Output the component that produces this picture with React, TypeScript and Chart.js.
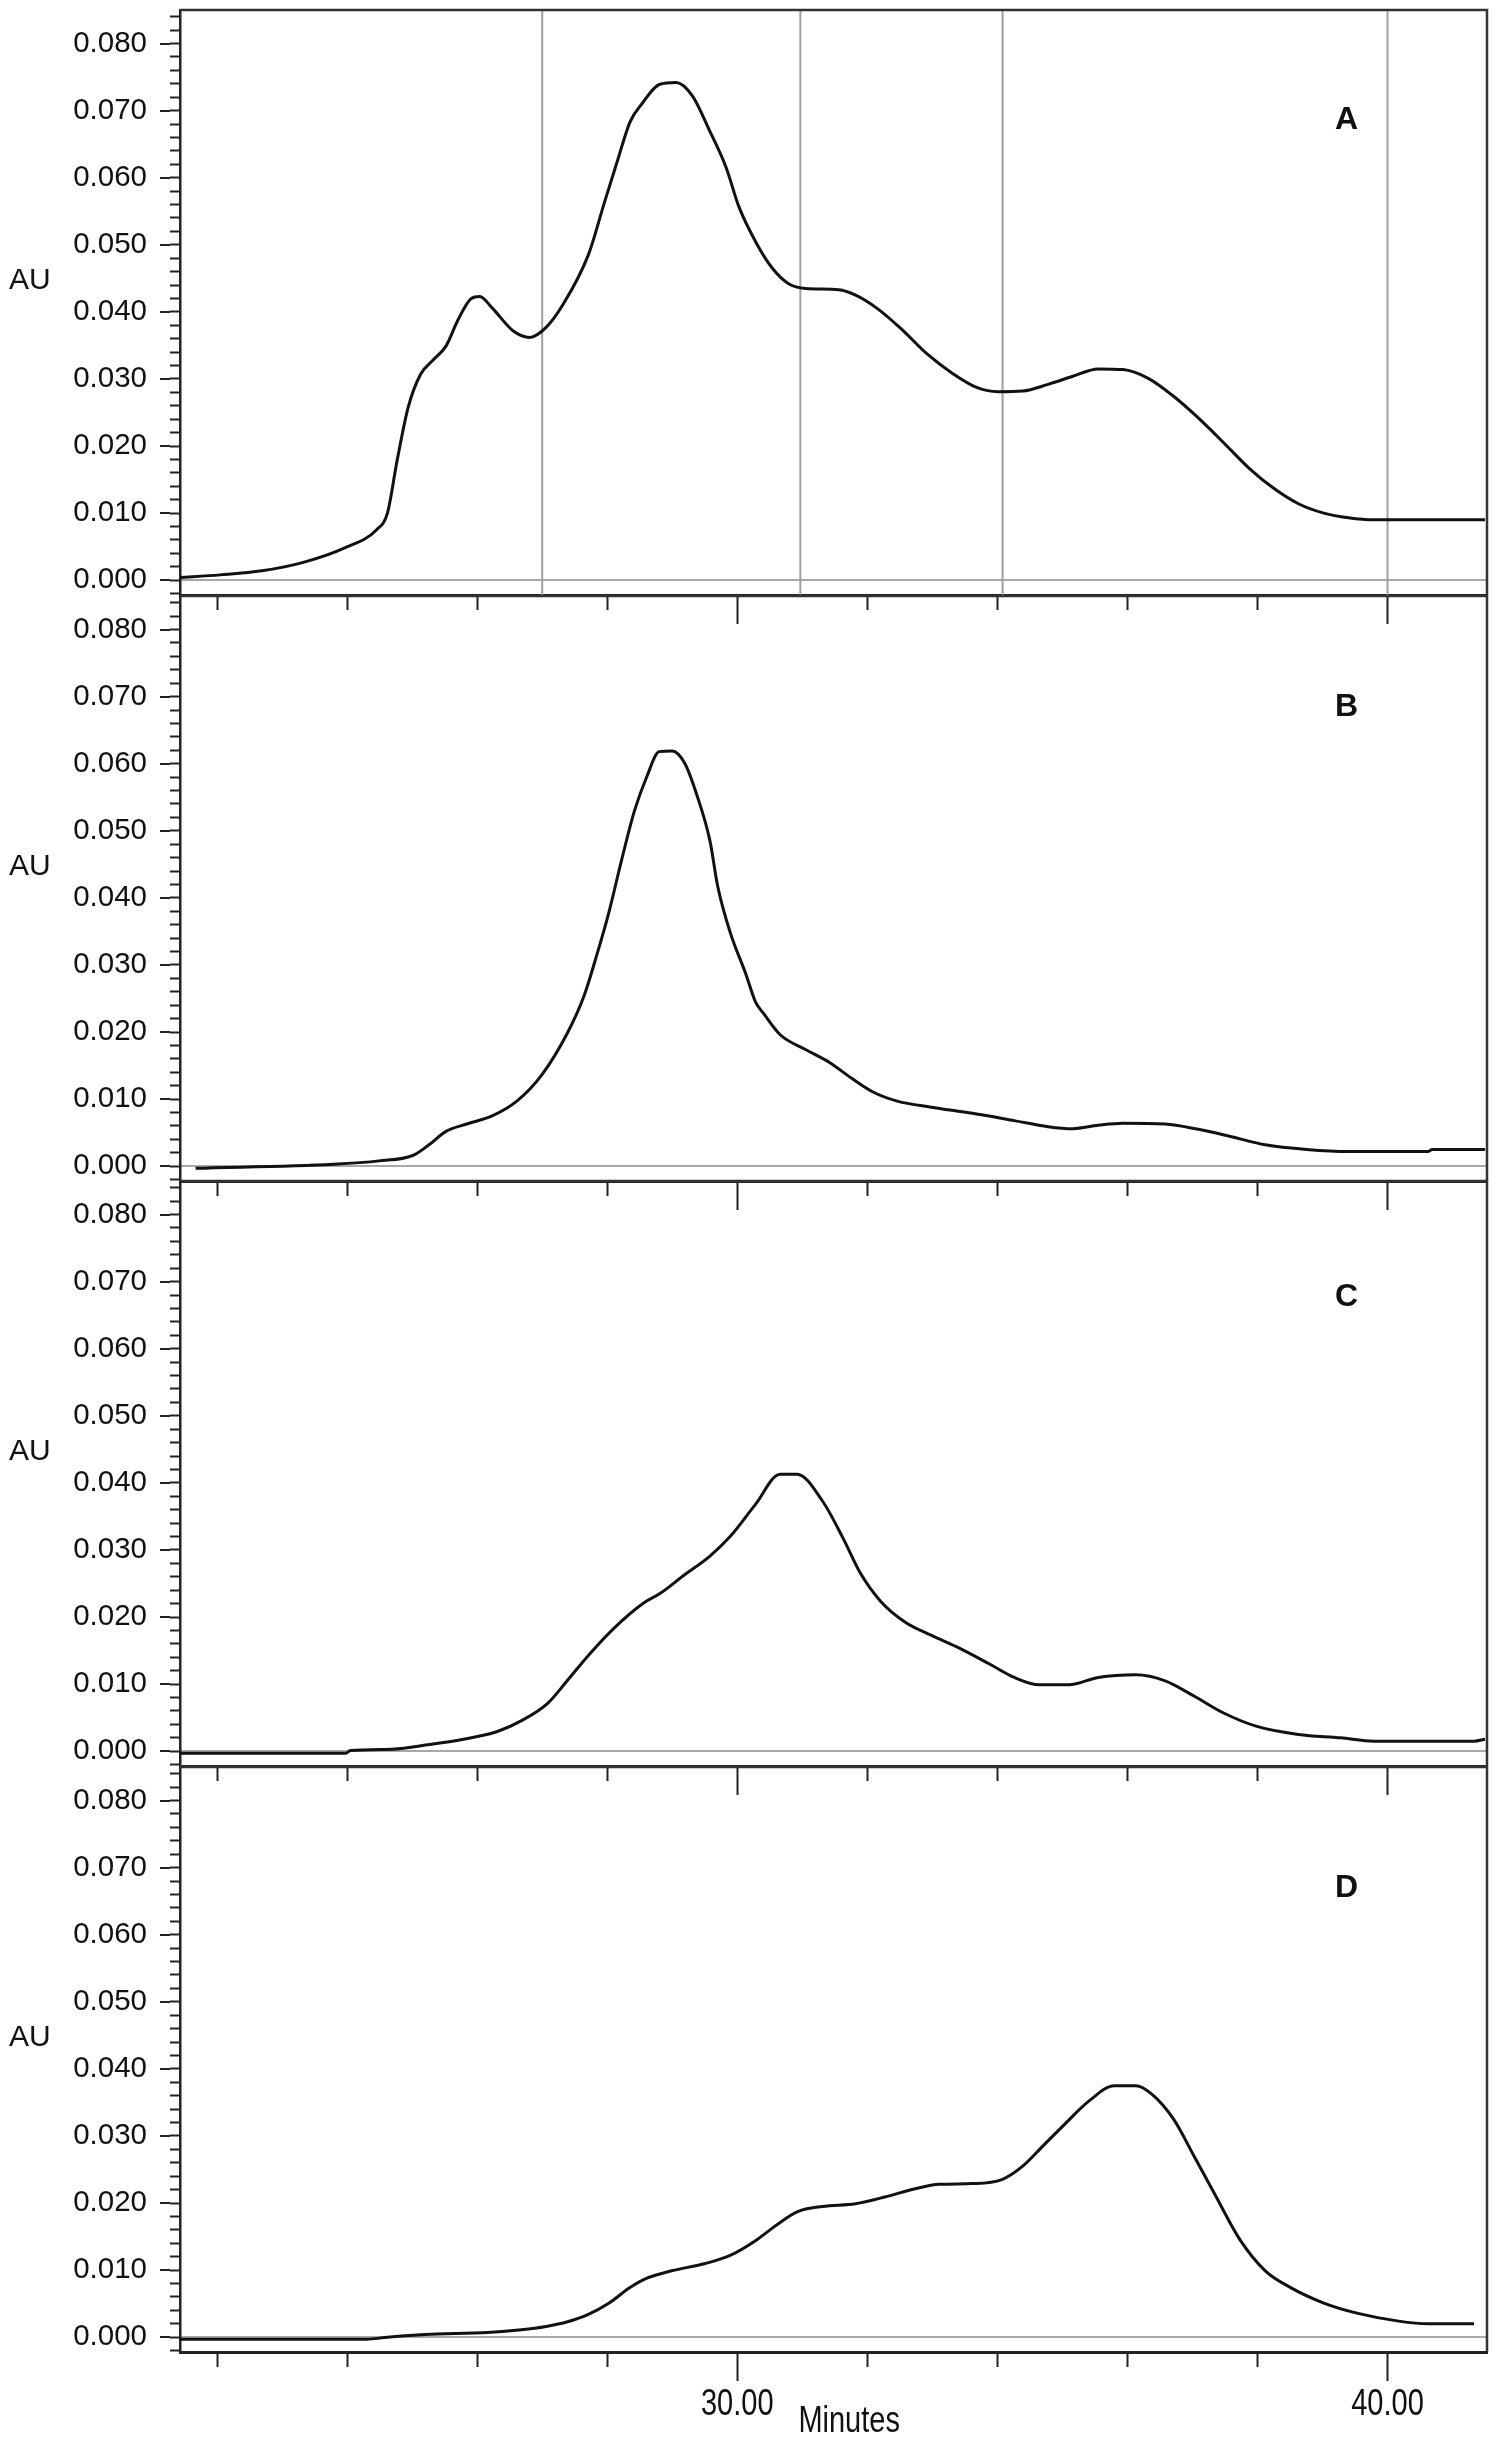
import React, { useEffect, useRef } from 'react';
import { Chart, registerables } from 'chart.js';

Chart.register(...registerables);

// ---------- axis ranges & ticks ----------
const X_MIN = 21.43;
const X_MAX = 41.53;
const Y_MIN = -0.0022;
const Y_MAX = 0.085;

const yMajorTicks = [0, 0.01, 0.02, 0.03, 0.04, 0.05, 0.06, 0.07, 0.08];
const yMinorTicks = [
  -0.002, 0, 0.002, 0.004, 0.006, 0.008, 0.01, 0.012, 0.014, 0.016, 0.018, 0.02,
  0.022, 0.024, 0.026, 0.028, 0.03, 0.032, 0.034, 0.036, 0.038, 0.04, 0.042, 0.044,
  0.046, 0.048, 0.05, 0.052, 0.054, 0.056, 0.058, 0.06, 0.062, 0.064, 0.066, 0.068,
  0.07, 0.072, 0.074, 0.076, 0.078, 0.08, 0.082, 0.084,
];
const xMinorTicks = [22, 24, 26, 28, 30, 32, 34, 36, 38, 40];
const xMajorTicks = [30, 40];

// fraction cut lines in panel A (minutes)
const fractionCuts = [27.0, 30.97, 34.08, 40.0];

// ---------- data (minutes, AU) ----------
const aTime = [21.41, 22.05, 22.69, 23.34, 23.98, 24.45, 24.62, 24.77, 24.94, 25.13, 25.33, 25.52, 25.71, 25.91, 26.04, 26.23, 26.55, 26.81, 27.06, 27.32, 27.71, 27.96, 28.16, 28.35, 28.54, 28.80, 29.06, 29.31, 29.57, 29.83, 30.02, 30.28, 30.54, 30.79, 31.05, 31.56, 31.82, 32.14, 32.53, 32.91, 33.30, 33.69, 34.01, 34.39, 34.78, 35.16, 35.55, 35.93, 36.32, 36.70, 37.09, 37.48, 37.86, 38.25, 38.63, 39.02, 39.40, 39.79, 41.50];
const aAU = [0.0004, 0.0008, 0.0014, 0.0027, 0.0049, 0.0075, 0.0100, 0.0179, 0.0258, 0.0307, 0.0329, 0.0349, 0.0389, 0.0420, 0.0423, 0.0406, 0.0372, 0.0362, 0.0377, 0.0411, 0.0485, 0.0564, 0.0626, 0.0683, 0.0711, 0.0739, 0.0742, 0.0722, 0.0671, 0.0615, 0.0558, 0.0505, 0.0465, 0.0442, 0.0435, 0.0433, 0.0425, 0.0406, 0.0374, 0.0338, 0.0309, 0.0287, 0.0281, 0.0282, 0.0292, 0.0304, 0.0315, 0.0314, 0.0301, 0.0275, 0.0242, 0.0205, 0.0168, 0.0137, 0.0114, 0.0100, 0.0093, 0.0090, 0.0090];

const bTime = [21.67, 23.79, 24.49, 25.01, 25.26, 25.52, 25.84, 26.23, 26.61, 27.00, 27.39, 27.64, 27.84, 28.03, 28.22, 28.42, 28.61, 28.80, 29.00, 29.19, 29.38, 29.58, 29.70, 29.89, 30.13, 30.28, 30.41, 30.66, 31.05, 31.43, 31.76, 32.08, 32.46, 32.98, 33.62, 34.26, 34.78, 35.16, 35.55, 35.93, 36.58, 37.09, 37.60, 38.12, 38.76, 39.40, 40.62, 40.69, 41.50];
const bAU = [-0.0003, 0.0003, 0.0008, 0.0016, 0.0032, 0.0052, 0.0063, 0.0075, 0.0097, 0.0137, 0.0199, 0.0253, 0.0315, 0.0380, 0.0456, 0.0530, 0.0581, 0.0618, 0.0619, 0.0601, 0.0553, 0.0485, 0.0417, 0.0349, 0.0287, 0.0245, 0.0227, 0.0196, 0.0174, 0.0154, 0.0131, 0.0111, 0.0097, 0.0088, 0.0079, 0.0068, 0.0059, 0.0056, 0.0061, 0.0064, 0.0063, 0.0055, 0.0044, 0.0032, 0.0025, 0.0022, 0.0022, 0.0025, 0.0025];

const cTime = [21.41, 23.98, 24.05, 24.69, 25.27, 25.79, 26.30, 26.69, 27.08, 27.40, 27.72, 28.11, 28.56, 28.81, 29.19, 29.58, 29.89, 30.28, 30.66, 30.92, 31.31, 31.63, 31.89, 32.21, 32.59, 32.98, 33.43, 33.88, 34.26, 34.65, 35.10, 35.55, 36.13, 36.58, 37.03, 37.48, 37.99, 38.63, 39.28, 39.79, 41.33, 41.50];
const cAU = [-0.0003, -0.0003, 0.0001, 0.0003, 0.0010, 0.0018, 0.0029, 0.0046, 0.0071, 0.0107, 0.0144, 0.0184, 0.0221, 0.0235, 0.0263, 0.0291, 0.0320, 0.0368, 0.0413, 0.0413, 0.0373, 0.0317, 0.0266, 0.0223, 0.0192, 0.0173, 0.0153, 0.0130, 0.0110, 0.0099, 0.0099, 0.0110, 0.0114, 0.0105, 0.0082, 0.0057, 0.0037, 0.0025, 0.0020, 0.0015, 0.0015, 0.0018];

const dTime = [21.41, 24.30, 24.62, 25.20, 26.16, 26.68, 27.06, 27.39, 27.71, 28.03, 28.35, 28.61, 28.99, 29.51, 29.89, 30.28, 30.60, 30.92, 31.31, 31.82, 32.27, 32.72, 33.11, 33.62, 34.07, 34.39, 34.71, 35.03, 35.42, 35.80, 36.13, 36.38, 36.71, 37.03, 37.35, 37.74, 38.12, 38.51, 39.02, 39.53, 40.17, 40.62, 41.33];
const dAU = [-0.0003, -0.0003, 0.0000, 0.0004, 0.0007, 0.0011, 0.0016, 0.0023, 0.0034, 0.0051, 0.0074, 0.0088, 0.0099, 0.0110, 0.0122, 0.0144, 0.0167, 0.0187, 0.0195, 0.0199, 0.0209, 0.0221, 0.0228, 0.0229, 0.0235, 0.0255, 0.0286, 0.0317, 0.0353, 0.0375, 0.0375, 0.0362, 0.0325, 0.0269, 0.0212, 0.0144, 0.0099, 0.0074, 0.0051, 0.0036, 0.0024, 0.0020, 0.0020];

// ---------- labels ----------
const panelNames = ['A', 'B', 'C', 'D'];
const panelLabelX = 39.37;
const panelLabelY = [0.0686, 0.0684, 0.0677, 0.0669];
const auLabelY = 0.0446;
const yAxisTitle = 'AU';
const xAxisTitle = 'Minutes';
const xAxisTitleX = 30.94;

const seriesTimes = [aTime, bTime, cTime, dTime];
const seriesValues = [aAU, bAU, cAU, dAU];

// ---------- layout ----------
const FONT = '"Liberation Sans", Arial, sans-serif';
const canvasTops = [0, 586, 1171, 1757];
const canvasHeights = [624, 624, 624, 689];
const X_LABEL_STRETCH = 1.3;

Chart.defaults.font.family = FONT;

function overlayPlugin(i: number, isLast: boolean) {
  return {
    id: 'overlay' + i,
    afterDraw(chart: any) {
      const { ctx, chartArea } = chart;
      const xs = chart.scales.x;
      const ys = chart.scales.y;
      ctx.save();
      // frame: top and right
      ctx.strokeStyle = '#333';
      ctx.lineWidth = 2.5;
      ctx.beginPath();
      ctx.moveTo(chartArea.left, chartArea.top);
      ctx.lineTo(chartArea.right, chartArea.top);
      ctx.lineTo(chartArea.right, chartArea.bottom);
      ctx.stroke();
      // AU label
      ctx.fillStyle = '#111';
      ctx.font = `30px ${FONT}`;
      ctx.textAlign = 'left';
      ctx.textBaseline = 'middle';
      ctx.fillText(yAxisTitle, chartArea.left - 171, ys.getPixelForValue(auLabelY));
      // panel label
      ctx.font = `bold 32px ${FONT}`;
      ctx.textAlign = 'center';
      ctx.fillText(panelNames[i], xs.getPixelForValue(panelLabelX), ys.getPixelForValue(panelLabelY[i]));
      // Minutes
      if (isLast) {
        const cy = chartArea.bottom + 70;
        ctx.translate(0, cy);
        ctx.scale(1, X_LABEL_STRETCH);
        ctx.font = `29px ${FONT}`;
        ctx.textAlign = 'left';
        ctx.fillText(xAxisTitle, xs.getPixelForValue(xAxisTitleX), 0);
      }
      ctx.restore();
    },
  };
}

function makeConfig(i: number): any {
  const isLast = i === 3;
  const datasets: any[] = [];
  datasets.push({
    data: seriesTimes[i].map((t, k) => ({ x: t, y: seriesValues[i][k] })),
    borderColor: '#111',
    borderWidth: 3,
    pointRadius: 0,
    fill: false,
    cubicInterpolationMode: 'monotone',
    xAxisID: 'x',
    yAxisID: 'y',
    order: 0,
  });
  if (i === 0) {
    fractionCuts.forEach((c) => {
      datasets.push({
        data: [{ x: c, y: Y_MIN }, { x: c, y: Y_MAX }],
        borderColor: '#a0a0a0',
        borderWidth: 2,
        pointRadius: 0,
        fill: false,
        xAxisID: 'x',
        yAxisID: 'y',
        order: 1,
      });
    });
  }
  const grayZero = (ctx: any) =>
    ctx.tick && Math.abs(ctx.tick.value) < 1e-9 ? '#a8a8a8' : 'rgba(0,0,0,0)';
  const noPad = (s: any) => {
    s.paddingTop = 0;
    s.paddingBottom = 0;
    s.paddingLeft = 0;
    s.paddingRight = 0;
  };
  return {
    type: 'line',
    data: { datasets },
    plugins: [overlayPlugin(i, isLast)],
    options: {
      animation: false,
      responsive: true,
      maintainAspectRatio: false,
      devicePixelRatio: 1,
      layout: { padding: { top: 10, right: 13, left: 0, bottom: 0 } },
      plugins: { legend: { display: false }, tooltip: { enabled: false }, title: { display: false } },
      events: [],
      scales: {
        x: {
          type: 'linear',
          position: 'bottom',
          min: X_MIN,
          max: X_MAX,
          weight: 0,
          afterBuildTicks: (s: any) => { s.ticks = xMinorTicks.map((v) => ({ value: v })); },
          afterFit: (s: any) => { s.height = 15; noPad(s); },
          ticks: { display: false },
          grid: { drawOnChartArea: false, drawTicks: true, tickLength: 15, tickWidth: 2, tickColor: '#222' },
          border: { display: true, color: '#222', width: 3 },
        },
        xMaj: {
          type: 'linear',
          position: 'bottom',
          min: X_MIN,
          max: X_MAX,
          weight: 1,
          afterBuildTicks: (s: any) => { s.ticks = xMajorTicks.map((v) => ({ value: v })); },
          afterFit: (s: any) => { s.height = isLast ? 79 : 14; noPad(s); },
          afterUpdate: (s: any) => {
            if (!isLast || s._stretchPatched) return;
            s._stretchPatched = true;
            const orig = s.drawLabels.bind(s);
            s.drawLabels = (area: any) => {
              const c = s.ctx;
              const cy = s.top + 14 + 6 + (29 * 1.2) / 2;
              c.save();
              c.translate(0, cy);
              c.scale(1, X_LABEL_STRETCH);
              c.translate(0, -cy);
              orig(area);
              c.restore();
            };
          },
          ticks: {
            display: isLast,
            autoSkip: false,
            maxRotation: 0,
            padding: 6,
            color: '#111',
            font: { size: 29, family: FONT },
            callback: (v: any) => Number(v).toFixed(2),
          },
          grid: { drawOnChartArea: false, drawTicks: true, tickLength: 14, tickWidth: 2, tickColor: '#222' },
          border: { display: false },
        },
        y: {
          type: 'linear',
          position: 'left',
          min: Y_MIN,
          max: Y_MAX,
          weight: 0,
          afterBuildTicks: (s: any) => { s.ticks = yMinorTicks.map((v) => ({ value: v })); },
          afterFit: (s: any) => { s.width = 10; noPad(s); },
          ticks: { display: false },
          grid: { drawOnChartArea: false, drawTicks: true, tickLength: 10, tickWidth: 2, tickColor: '#222' },
          border: { display: true, color: '#222', width: 2.5 },
        },
        yMaj: {
          type: 'linear',
          position: 'left',
          min: Y_MIN,
          max: Y_MAX,
          weight: 1,
          afterBuildTicks: (s: any) => { s.ticks = yMajorTicks.map((v) => ({ value: v })); },
          afterFit: (s: any) => { s.width = 170; noPad(s); },
          ticks: {
            display: true,
            autoSkip: false,
            padding: 13,
            color: '#111',
            font: { size: 29.5, family: FONT },
            callback: (v: any) => Number(v).toFixed(3),
          },
          grid: {
            drawOnChartArea: true,
            color: grayZero,
            lineWidth: 2,
            drawTicks: true,
            tickLength: 10,
            tickWidth: 2,
            tickColor: '#222',
          },
          border: { display: false },
        },
      },
    },
  };
}

export default function App() {
  const refs = useRef<(HTMLCanvasElement | null)[]>([]);
  useEffect(() => {
    const charts: Chart[] = [];
    refs.current.forEach((c, i) => {
      if (c) charts.push(new Chart(c, makeConfig(i)));
    });
    return () => charts.forEach((ch) => ch.destroy());
  }, []);
  return (
    <div style={{ position: 'absolute', left: 0, top: 0, width: 1500, height: 2446, background: '#fff' }}>
      {panelNames.map((n, i) => (
        <div
          key={n}
          style={{ position: 'absolute', left: 0, top: canvasTops[i], width: 1500, height: canvasHeights[i] }}
        >
          <canvas ref={(el) => { refs.current[i] = el; }} />
        </div>
      ))}
    </div>
  );
}
